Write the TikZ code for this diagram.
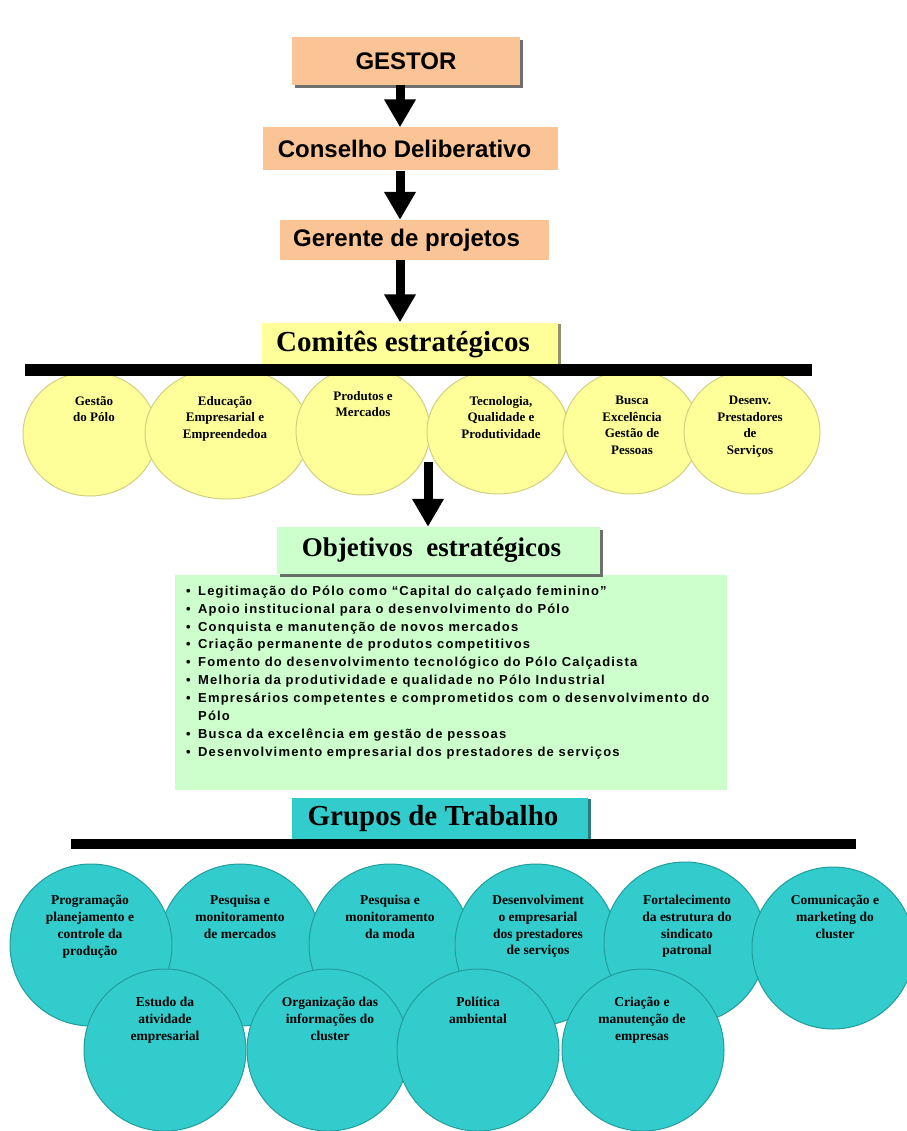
\documentclass[tikz,border=0pt]{standalone}
\usepackage{fontspec}
\setmainfont{Liberation Serif}
\newfontfamily\arialfont{Liberation Sans}
\newfontfamily\listfont[LetterSpace=9]{Liberation Sans}
\usetikzlibrary{arrows.meta,shadows,shapes.geometric}
\definecolor{peach}{HTML}{FBC497}
\definecolor{yel}{HTML}{FFFF99}
\definecolor{yelD}{HTML}{D0D080}
\definecolor{mint}{HTML}{CCFFCC}
\definecolor{teal1}{HTML}{33CCCC}
\definecolor{tealD}{HTML}{239C9C}
\tikzset{
  peachbox/.style={rectangle, fill=peach, inner sep=0pt, font=\arialfont\bfseries\fontsize{24}{28}\selectfont},
  bigarrow/.style={line width=9pt, -{Triangle[length=28pt,width=30pt]}},
  titlebox/.style={rectangle, inner sep=0pt, font=\bfseries\fontsize{29}{32}\selectfont},
  yellipse/.style={ellipse, fill=yel, draw=yelD, line width=1pt, inner sep=0pt},
  ytext/.style={anchor=north, align=center, inner sep=0pt, font=\bfseries\fontsize{13}{16.5}\selectfont},
  tcircle/.style={circle, fill=teal1, draw=tealD, line width=1pt, inner sep=0pt, minimum size=162pt},
  ttext/.style={anchor=north, align=center, inner sep=0pt, font=\bfseries\fontsize{13.5}{16.8}\selectfont},
  blackbar/.style={rectangle, fill=black, inner sep=0pt},
  shadowgray/.style={drop shadow={shadow xshift=3pt, shadow yshift=-3pt, fill=black!70, opacity=0.8}}
}
\newcommand{\itm}[1]{\makebox[12pt][l]{\textbullet}#1}
\begin{document}
\begin{tikzpicture}[x=1pt,y=-1pt]
\useasboundingbox[fill=white] (0,0) rectangle (906,1131);

% top chain
\node[peachbox, minimum width=228pt, minimum height=48pt, shadowgray] (gestor) at (406,61) {GESTOR};
\node[peachbox, minimum width=295pt, minimum height=43pt] (conselho) at (410.5,149) {\hspace*{-12pt}Conselho Deliberativo};
\node[peachbox, minimum width=269pt, minimum height=40pt] (gerente) at (414.5,240) {\hspace*{-16pt}Gerente de projetos};

\coordinate (ax) at (400,0);
\draw[bigarrow] (ax |- gestor.south) -- (ax |- conselho.north);
\draw[bigarrow] (ax |- conselho.south) -- (ax |- gerente.north);

% yellow ellipses
\node[yellipse, minimum width=134pt, minimum height=124pt] (e1) at (90,434) {};
\node[yellipse, minimum width=164pt, minimum height=132pt] (e2) at (227,433) {};
\node[yellipse, minimum width=134pt, minimum height=128pt] (e3) at (363,431) {};
\node[yellipse, minimum width=142pt, minimum height=124pt] (e4) at (498,432) {};
\node[yellipse, minimum width=136pt, minimum height=124pt] (e5) at (631,432) {};
\node[yellipse, minimum width=136pt, minimum height=124pt] (e6) at (752,432) {};
\node[ytext] (t1) at (94,396) {Gestão\\do Pólo};
\node[ytext] (t2) at (225,396) {Educação\\Empresarial e\\Empreendedoa};
\node[ytext] (t3) at (363,391) {Produtos e\\Mercados};
\node[ytext] (t4) at (501,396) {Tecnologia,\\Qualidade e\\Produtividade};
\node[ytext] (t5) at (632,396) {Busca\\Excelência\\Gestão de\\Pessoas};
\node[ytext] (t6) at (750,396) {Desenv.\\Prestadores\\de\\Serviços};

% Comites title and bar
\node[titlebox, fill=yel, minimum width=296pt, minimum height=43pt, drop shadow={shadow xshift=3pt, shadow yshift=-1pt, fill=black!60!yellow, opacity=0.8}] (comites) at (410,344) {\hspace*{-14pt}Comitês estratégicos};
\draw[bigarrow] (ax |- gerente.south) -- (ax |- comites.north);
\node[blackbar, minimum width=787pt, minimum height=12pt] (bar1) at (418.5,370) {};

% Objetivos
\node[rectangle, fill=mint, inner sep=0pt, minimum width=552pt, minimum height=215pt] (lista) at (451,682.5) {};
\node[titlebox, fill=mint, font=\bfseries\fontsize{27}{30}\selectfont, minimum width=323pt, minimum height=47pt, shadowgray] (objetivos) at (438.5,550.5) {\hspace*{-14pt}Objetivos\ \ estratégicos};
\coordinate (a4) at (428,462);
\draw[bigarrow] (a4) -- (a4 |- objetivos.north);
\node[anchor=north west, align=left, inner sep=0pt, font=\listfont\bfseries\fontsize{13}{17.9}\selectfont] (itens) at (186,585.5) {%
\itm{Legitimação do Pólo como “Capital do calçado feminino”}\\
\itm{Apoio institucional para o desenvolvimento do Pólo}\\
\itm{Conquista e manutenção de novos mercados}\\
\itm{Criação permanente de produtos competitivos}\\
\itm{Fomento do desenvolvimento tecnológico do Pólo Calçadista}\\
\itm{Melhoria da produtividade e qualidade no Pólo Industrial}\\
\itm{Empresários competentes e comprometidos com o desenvolvimento do}\\
\hspace*{12pt}Pólo\\
\itm{Busca da excelência em gestão de pessoas}\\
\itm{Desenvolvimento empresarial dos prestadores de serviços}};

% Grupos
\node[titlebox, fill=teal1, minimum width=296pt, minimum height=41pt, drop shadow={shadow xshift=3pt, shadow yshift=-1pt, fill=tealD!70!black, opacity=0.9}] (grupos) at (440,818.5) {\hspace*{-14pt}Grupos de Trabalho};
\node[blackbar, minimum width=785pt, minimum height=10pt] (bar2) at (463.5,844) {};

% teal circles row 1
\node[tcircle] (g2) at (240,945) {};
\node[tcircle] (g1) at (91,945) {};
\node[tcircle] (g3) at (390,945) {};
\node[tcircle] (g4) at (536,945) {};
\node[tcircle] (g5) at (685,943) {};
\node[tcircle] (g6) at (833,948) {};
\node[ttext] (u1) at (90,895) {Programação\\planejamento e\\controle da\\produção};
\node[ttext] (u2) at (240,895) {Pesquisa e\\monitoramento\\de mercados};
\node[ttext] (u3) at (390,895) {Pesquisa e\\monitoramento\\da moda};
\node[ttext] (u4) at (538,895) {Desenvolviment\\o empresarial\\dos prestadores\\de serviços};
\node[ttext] (u5) at (687,895) {Fortalecimento\\da estrutura do\\sindicato\\patronal};
\node[ttext] (u6) at (835,895) {Comunicação e\\marketing do\\cluster};
% row 2
\node[tcircle] (h1) at (165,1050) {};
\node[tcircle] (h2) at (328,1050) {};
\node[tcircle] (h3) at (478,1050) {};
\node[tcircle] (h4) at (643,1050) {};
\node[ttext] (v1) at (165,997) {Estudo da\\atividade\\empresarial};
\node[ttext] (v2) at (330,997) {Organização das\\informações do\\cluster};
\node[ttext] (v3) at (478,997) {Política\\ambiental};
\node[ttext] (v4) at (642,997) {Criação e\\manutenção de\\empresas};
\end{tikzpicture}
\end{document}
